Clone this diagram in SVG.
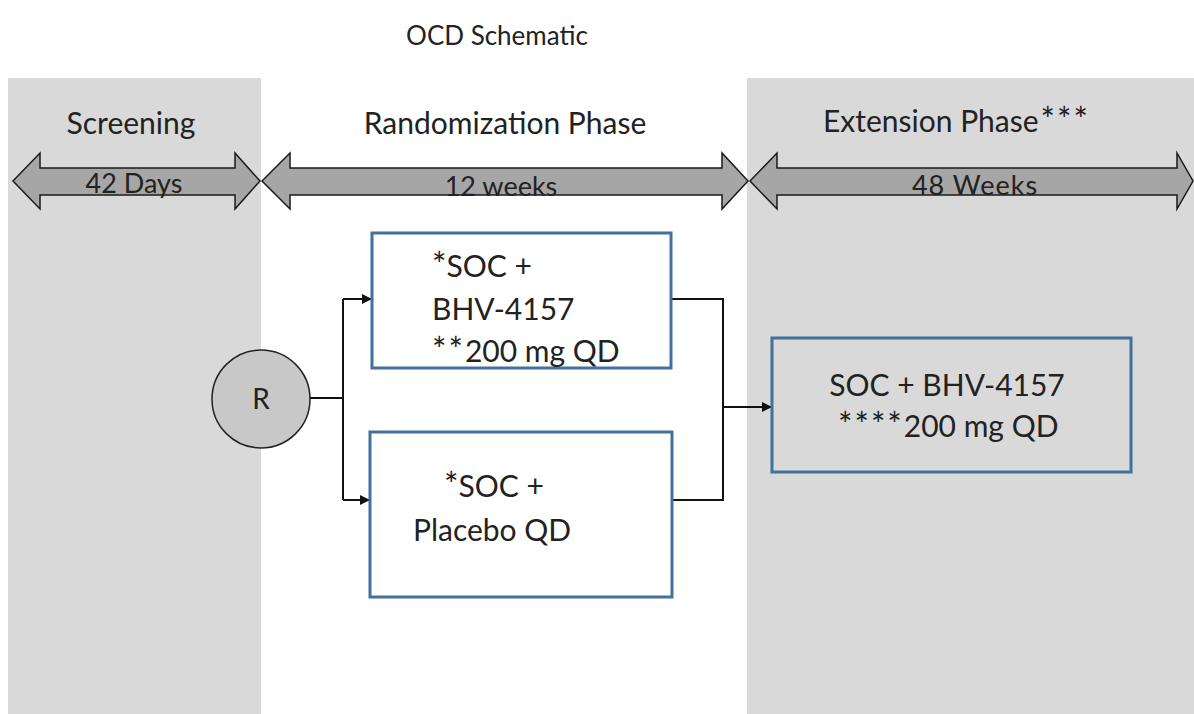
<svg xmlns="http://www.w3.org/2000/svg" width="1194" height="714" viewBox="0 0 1194 714">
  <defs>
    <style>
      .txt { font-family: Lato, "Open Sans", "Liberation Sans", sans-serif; fill: #222; }
      .head { font-size: 30px; }
      .dur { font-size: 27px; }
      .lbl { font-size: 30px; }
      .star { font-size: 34px; }
      .panel { fill: #D9D9D9; }
      .span { fill: #A6A6A6; stroke: #1a1a1a; stroke-width: 1.5; stroke-linejoin: miter; }
      .box { stroke: #41719C; stroke-width: 3; }
      .wire { fill: none; stroke: #111; stroke-width: 2; }
    </style>
    <marker id="arrow" markerWidth="10" markerHeight="10" refX="9" refY="5" orient="auto" markerUnits="userSpaceOnUse">
      <path d="M0,0 L10,5 L0,10 Z" fill="#111"/>
    </marker>
  </defs>

  <rect width="1194" height="714" fill="#ffffff"/>

  <!-- phase panels -->
  <rect class="panel" x="8" y="78" width="253" height="636"/>
  <rect class="panel" x="747" y="78" width="447" height="636"/>

  <text class="txt" x="497" y="45" font-size="26" text-anchor="middle">OCD Schematic</text>

  <!-- phase headers -->
  <text class="txt head" x="131" y="134" text-anchor="middle">Screening</text>
  <text class="txt head" x="505" y="134" text-anchor="middle">Randomization Phase</text>
  <text class="txt head" x="823" y="132">Extension Phase<tspan class="star" dx="2">*</tspan><tspan class="star" dx="2">*</tspan><tspan class="star" dx="2">*</tspan></text>

  <!-- duration arrows -->
  <g id="span-screening">
    <polygon class="span" points="13,181 40,153 40,168 235,168 235,153 260,181 235,209 235,195 40,195 40,209"/>
    <text class="txt dur" x="134" y="193" text-anchor="middle">42 Days</text>
  </g>
  <g id="span-randomization">
    <polygon class="span" points="262,181 290,153 290,168 722,168 722,153 748,181 722,209 722,195 290,195 290,209"/>
    <text class="txt dur" x="501" y="196" text-anchor="middle">12 weeks</text>
  </g>
  <g id="span-extension">
    <polygon class="span" points="750,181 777,153 777,168 1177,168 1177,153 1193,181 1177,209 1177,195 777,195 777,209"/>
    <text class="txt dur" x="975" y="195" text-anchor="middle" letter-spacing="1">48 Weeks</text>
  </g>

  <!-- connectors -->
  <g id="connectors">
    <path class="wire" d="M310,398 H343"/>
    <path class="wire" d="M343,299 V500"/>
    <path class="wire" d="M343,299 H371" marker-end="url(#arrow)"/>
    <path class="wire" d="M343,500 H369" marker-end="url(#arrow)"/>
    <path class="wire" d="M671,299 H723 V500 H672"/>
    <path class="wire" d="M723,407 H771" marker-end="url(#arrow)"/>
  </g>

  <!-- randomization node -->
  <g id="node-r">
    <circle cx="261" cy="399" r="49" fill="#C8C8C8" stroke="#222" stroke-width="1.5"/>
    <text class="txt" x="261" y="409" font-size="28" text-anchor="middle">R</text>
  </g>

  <g id="node-active">
    <rect class="box" x="372" y="233" width="299" height="135" fill="#ffffff"/>
    <text class="txt lbl" x="432" y="277"><tspan class="star">*</tspan>SOC +</text>
    <text class="txt lbl" x="432" y="320">BHV-4157</text>
    <text class="txt lbl" x="432" y="362"><tspan class="star">*</tspan><tspan class="star" dx="2">*</tspan><tspan dx="2">200 mg QD</tspan></text>
  </g>

  <g id="node-placebo">
    <rect class="box" x="370" y="432" width="302" height="165" fill="#ffffff"/>
    <text class="txt lbl" x="444" y="497"><tspan class="star">*</tspan>SOC +</text>
    <text class="txt lbl" x="413" y="541">Placebo QD</text>
  </g>

  <g id="node-extension">
    <rect class="box" x="772" y="338" width="359" height="134" fill="#D9D9D9"/>
    <text class="txt lbl" x="947" y="396" text-anchor="middle">SOC + BHV-4157</text>
    <text class="txt lbl" x="838" y="437"><tspan class="star">*</tspan><tspan class="star" dx="2">*</tspan><tspan class="star" dx="2">*</tspan><tspan class="star" dx="2">*</tspan><tspan dx="2">200 mg QD</tspan></text>
  </g>
</svg>
